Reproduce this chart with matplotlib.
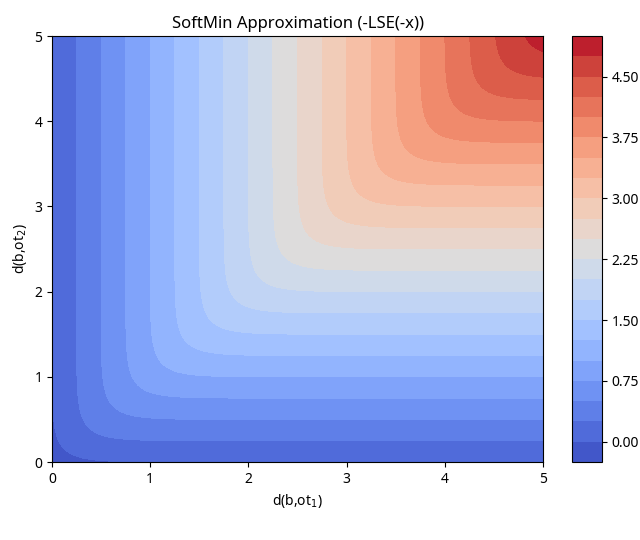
import numpy as np
import matplotlib
matplotlib.use("Agg")
import matplotlib.pyplot as plt

plt.rcParams['font.family'] = ['Noto Sans', 'DejaVu Sans']

# grid of distances to the two targets
d1 = np.linspace(0, 5, 300)
d2 = np.linspace(0, 5, 300)
beta = 5.0  # sharpness of the soft minimum

D1, D2 = np.meshgrid(d1, d2)
Z = -np.log(np.exp(-beta * D1) + np.exp(-beta * D2)) / beta

fig = plt.figure(figsize=(6.4, 5.4), dpi=100)
ax = fig.add_axes([52 / 640, 78 / 540, 491 / 640, 426 / 540])
cax = fig.add_axes([572 / 640, 78 / 540, 30 / 640, 426 / 540])

cs = ax.contourf(D1, D2, Z, levels=20, cmap='coolwarm')
fig.colorbar(cs, cax=cax)

ax.set_xlabel(r"d(b,ot$_1$)")
ax.set_ylabel(r"d(b,ot$_2$)")
ax.set_title("SoftMin Approximation (-LSE(-x))")

plt.savefig("out.png")
